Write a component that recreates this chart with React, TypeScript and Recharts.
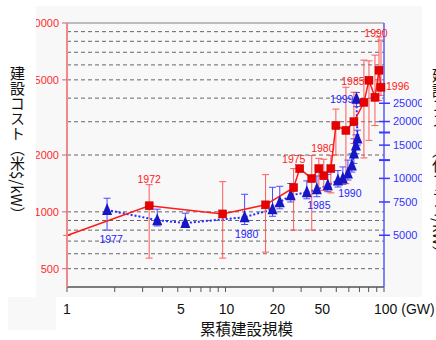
import { ComposedChart, Line, XAxis, YAxis, ErrorBar, ReferenceLine, LabelList } from "recharts";

// US (red, left axis, $/kW)
const usGW = [1, 3.3, 9.6, 17.9, 26.9, 29.4, 35.0, 38.8, 41.7, 46.2, 49.7, 57.5, 64.6, 74.7, 80.4, 87.7, 93.0, 95.7];
const usCost = [750, 1077, 975, 1089, 1343, 1694, 1500, 1694, 1553, 1694, 2865, 2700, 3000, 3800, 4977, 4040, 5623, 4570];
const usLow = [750, 569, 569, 612, 801, 1694, 801, 1300, 1300, 1260, 2000, 1410, 2300, 1930, 2390, 2865, 3890, 4135];
const usHigh = [750, 1393, 1445, 1574, 1694, 1694, 1986, 1920, 1900, 1986, 3500, 4570, 4300, 6360, 6300, 6760, 8430, 8120];
const usYear = ["", "1972", "", "", "", "1975", "", "1980", "", "", "", "", "1985", "", "", "", "1990", "1996"];
const usMarker = [false, true, true, true, true, true, true, true, true, true, true, true, true, true, true, true, true, true];

// France (blue, right axis, FF/kW)
const frGW = [1.79, 3.71, 5.58, 13.2, 19.8, 22.0, 25.8, 32.6, 37.7, 44.2, 51.2, 55.0, 59.2, 62.7, 64.6, 66.5, 68, 67];
const frCost = [6800, 6010, 5800, 6230, 6870, 7480, 8140, 8440, 8750, 9190, 9760, 10000, 10620, 11700, 13540, 14920, 16250, 26400];
const frLow = [5320, 5600, 5500, 5700, 6300, 6900, 7500, 7800, 8000, 8500, 9000, 9300, 9800, 10800, 12000, 13500, 15000, 24000];
const frHigh = [7850, 6870, 6540, 8240, 8970, 9080, 9400, 9700, 10300, 10500, 11000, 11500, 12500, 13500, 16200, 17000, 18000, 28500];
const frYear = ["1977", "", "", "1980", "", "", "", "", "1985", "", "", "1990", "", "", "", "", "", "1999"];

const xTicks = [1, 2, 3, 4, 5, 6, 7, 8, 9, 10, 20, 30, 40, 50, 60, 70, 80, 90, 100];
const xLabels = [1, 5, 10, 20, 50, 100];
const leftTicks = [500, 1000, 2000, 5000, 10000];
const gridLines = [500, 600, 700, 800, 900, 1000, 2000, 3000, 4000, 5000, 6000, 7000, 8000, 9000];
const rightTicks = [5000, 7500, 10000, 12500, 15000, 17500, 20000, 25000];
const rightLabels = [5000, 7500, 10000, 15000, 20000, 25000];

const usData = usGW.map((x, i) => ({
  x, y: usCost[i], err: [usCost[i] - usLow[i], usHigh[i] - usCost[i]], year: usYear[i], mark: usMarker[i],
}));
const frData = frGW.map((x, i) => ({
  x, y: frCost[i], err: [frCost[i] - frLow[i], frHigh[i] - frCost[i]], year: frYear[i],
}));

const labelPos: Record<string, { dx: number; dy: number; anchor?: string }> = {
  "r1972": { dx: 0, dy: -23 }, "r1975": { dx: -6, dy: -6 }, "r1980": { dx: 4, dy: -17 },
  "r1985": { dx: -1, dy: -37 }, "r1990": { dx: -3, dy: -33 }, "r1996": { dx: 5, dy: 3, anchor: "start" },
  "b1977": { dx: 4, dy: 33 }, "b1980": { dx: 2, dy: 21 }, "b1985": { dx: 2, dy: 20 },
  "b1990": { dx: 7, dy: 19 }, "b1999": { dx: -3, dy: 4, anchor: "end" },
};
const xLabelDx: Record<number, number> = { 5: 3, 10: 1, 20: 4, 50: -14 };

const font = "'Liberation Sans', Arial, sans-serif";
const cjk = "'Noto Sans CJK JP', sans-serif";

const yearLabel = (prefix: string, color: string) => (p: any) => {
  if (!p.value) return null;
  const pos = labelPos[prefix + p.value];
  const x = p.x ?? p.viewBox?.x;
  const y = p.y ?? p.viewBox?.y;
  return (
    <text x={x + pos.dx} y={y + pos.dy} textAnchor={pos.anchor || "middle"} fill={color} fontSize={10.5} fontFamily={font}>
      {p.value}
    </text>
  );
};

const Square = (p: any) => {
  if (!p.payload.mark) return <g key={`s${p.index}`} />;
  return <rect key={`s${p.index}`} x={p.cx - 4} y={p.cy - 4} width={8} height={8} fill="#e80000" stroke="#c00000" strokeWidth={0.5} />;
};

const Triangle = (p: any) => (
  <polygon key={`t${p.index}`} points={`${p.cx},${p.cy - 7} ${p.cx - 5},${p.cy + 5} ${p.cx + 5},${p.cy + 5}`} fill="#1616c4" />
);

const XTick = (p: any) => {
  const v = p.payload.value;
  if (!xLabels.includes(v)) return null;
  if (v === 100) {
    return <text x={p.x - 10} y={p.y + 18} fontSize={14} fontFamily={font} fill="#111">100 (GW)</text>;
  }
  return <text x={p.x + (xLabelDx[v] || 0)} y={p.y + 18} textAnchor="middle" fontSize={14} fontFamily={font} fill="#111">{v}</text>;
};

const RightTick = (p: any) => {
  const v = p.payload.value;
  const major = rightLabels.includes(v);
  return (
    <g>
      <line x1={p.x - 5} x2={p.x + 6} y1={p.y} y2={p.y} stroke="#3a3aff" strokeWidth={major ? 1.5 : 2} />
      {major && <text x={p.x + 9} y={p.y} dy="0.35em" fill="#3434ff" fontSize={11} fontFamily={font}>{v}</text>}
    </g>
  );
};

export default function App() {
  return (
    <div style={{ position: "fixed", left: 0, top: 0, width: 436, height: 340, overflow: "hidden", background: "#fff" }}>
      <div style={{ position: "absolute", left: 36, top: 6, width: 386, height: 291, background: "#f8f8f8" }} />
      <div style={{ position: "absolute", left: 8, top: 297, width: 48, height: 33, background: "#f8f8f8" }} />
      <div style={{ position: "absolute", left: 36, top: 0, width: 400, height: 340, overflow: "hidden" }}>
        <ComposedChart width={400} height={340} margin={{ top: 23, right: 14, left: 0, bottom: 0 }} style={{ fontFamily: font }}>
          <XAxis dataKey="x" type="number" scale="log" domain={[1, 100]} ticks={xTicks} interval={0}
            height={53} tickSize={5} tickMargin={4} tick={<XTick />}
            axisLine={{ stroke: "#555", strokeWidth: 1.5 }} tickLine={{ stroke: "#555" }} />
          <YAxis yAxisId="left" type="number" scale="log" domain={[400, 10000]} ticks={leftTicks} interval={0}
            width={31} tickSize={5} tickMargin={3}
            tick={{ fill: "#ff2a2a", fontSize: 11, fontFamily: font }}
            axisLine={{ stroke: "#f08a8a", strokeWidth: 2 }} tickLine={{ stroke: "#e06060" }} />
          <YAxis yAxisId="right" orientation="right" type="number" scale="log" domain={[2660, 66500]} ticks={rightTicks} interval={0}
            width={38} tickSize={0} tickMargin={0} tick={<RightTick />}
            axisLine={{ stroke: "#5a5aff", strokeWidth: 1.5 }} tickLine={false} />
          {gridLines.map((g) => (
            <ReferenceLine key={g} yAxisId="left" y={g} stroke="#666" strokeDasharray="4 3" strokeWidth={1} />
          ))}
          <ReferenceLine yAxisId="left" y={10000} stroke="#a8a8a8" strokeWidth={1.5} />
          <Line yAxisId="right" data={frData} dataKey="y" stroke="#2a2aff" strokeWidth={2} strokeDasharray="2 2"
            dot={Triangle} activeDot={false} isAnimationActive={false}>
            <ErrorBar dataKey="err" direction="y" width={3.5} stroke="#4a4aff" strokeWidth={1} />
            <LabelList dataKey="year" content={yearLabel("b", "#2424ff")} />
          </Line>
          <Line yAxisId="left" data={usData} dataKey="y" stroke="#ff1a1a" strokeWidth={1.5}
            dot={Square} activeDot={false} isAnimationActive={false}>
            <ErrorBar dataKey="err" direction="y" width={3.5} stroke="#ff5a5a" strokeWidth={1} />
            <LabelList dataKey="year" content={yearLabel("r", "#ff2020")} />
          </Line>
        </ComposedChart>
      </div>
      <div style={{ position: "absolute", left: 9, top: 66, writingMode: "vertical-rl", fontSize: 15, lineHeight: "16px", fontFamily: cjk, color: "#111" }}>
        建設コスト（米$/kW）
      </div>
      <div style={{ position: "absolute", left: 422, top: 66, padding: "2px 0 4px 9px", background: "#fff", writingMode: "vertical-rl", fontSize: 15, lineHeight: "16px", fontFamily: cjk, color: "#111" }}>
        建設コスト（仏フラン/kW）
      </div>
      <div style={{ position: "absolute", left: 200, top: 321, fontSize: 15.5, lineHeight: "15px", fontFamily: cjk, color: "#111", whiteSpace: "nowrap" }}>
        累積建設規模
      </div>
    </div>
  );
}
